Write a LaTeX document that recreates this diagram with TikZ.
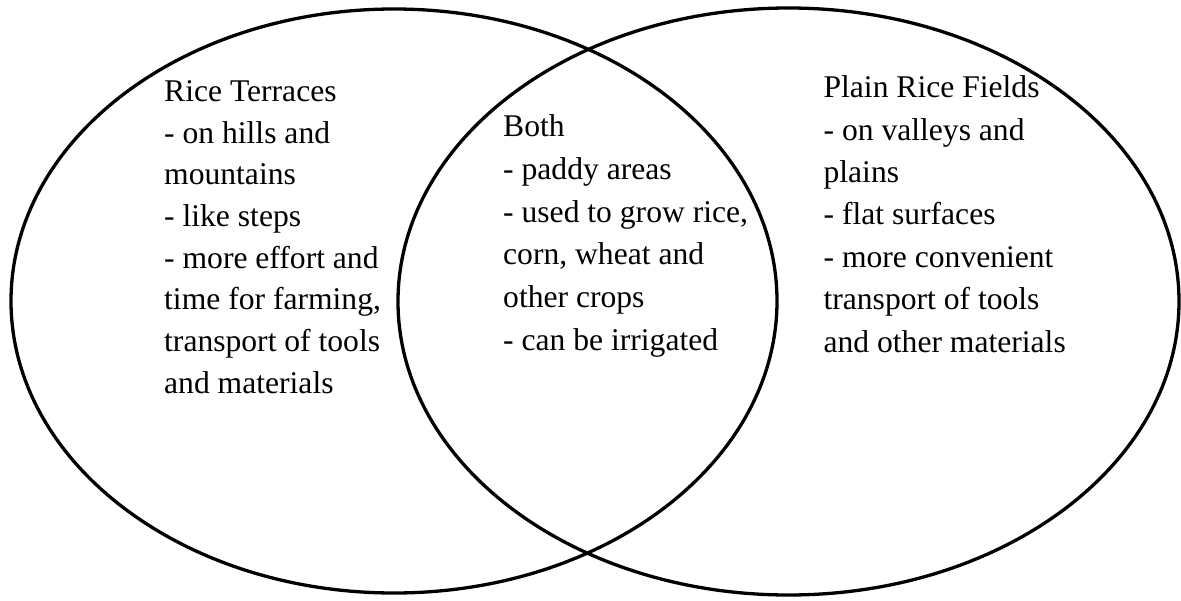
\documentclass[tikz,border=0pt]{standalone}
\usepackage{fontspec}
\setmainfont{Liberation Serif}
\begin{document}
\begin{tikzpicture}[x=1pt,y=-1pt,
  ring/.style={draw=black,line width=3.3pt},
  txt/.style={anchor=base west,inner sep=0pt,align=left,
    font=\fontsize{31.6pt}{#1}\selectfont}]
\useasboundingbox[fill=white] (0,0) rectangle (1181,600);
\draw[ring] (394,301) ellipse [x radius=383, y radius=292];
\draw[ring] (788.5,301.5) ellipse [x radius=390.5, y radius=293.5];
\node[txt=41.7pt] (left) at (164,393.3) {Rice Terraces\\- on hills and\\mountains\\- like steps\\- more effort and\\time for farming,\\transport of tools\\and materials};
\node[txt=42.7pt] (both) at (503,350.1) {Both\\- paddy areas\\- used to grow rice,\\corn, wheat and\\other crops\\- can be irrigated};
\node[txt=42.4pt] (right) at (823.4,352) {Plain Rice Fields\\- on valleys and\\plains\\- flat surfaces\\- more convenient\\transport of tools\\and other materials};
\end{tikzpicture}
\end{document}
